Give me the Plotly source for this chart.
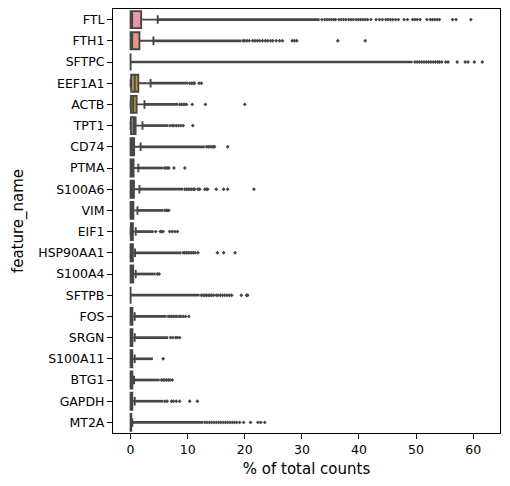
import math
import colorsys
import plotly.graph_objects as go

genes = ["FTL", "FTH1", "SFTPC", "EEF1A1", "ACTB", "TPT1", "CD74", "PTMA", "S100A6", "VIM",
         "EIF1", "HSP90AA1", "S100A4", "SFTPB", "FOS", "SRGN", "S100A11", "BTG1", "GAPDH", "MT2A"]
lower_whisker = [0.0] * 20
q1 = [0.0, 0.0, 0.0, 0.1, 0.05, 0.05, 0.0, 0.0, 0.0, 0.0,
      0.05, 0.0, 0.0, 0.0, 0.0, 0.0, 0.0, 0.0, 0.0, 0.0]
median = [0.27, 0.28, 0.0, 0.73, 0.45, 0.55, 0.28, 0.25, 0.3, 0.2,
          0.2, 0.15, 0.2, 0.0, 0.12, 0.12, 0.1, 0.1, 0.1, 0.05]
q3 = [1.85, 1.55, 0.0, 1.35, 1.05, 0.88, 0.62, 0.52, 0.58, 0.48,
      0.4, 0.4, 0.45, 0.0, 0.32, 0.32, 0.3, 0.32, 0.3, 0.12]
upper_whisker = [4.75, 4.0, 0.0, 3.5, 2.43, 2.08, 1.75, 1.35, 1.55, 1.2,
                 0.9, 0.78, 0.9, 0.0, 0.73, 0.73, 0.73, 0.62, 0.73, 0.3]
# end of the densely packed run of outliers (appears as a solid line)
dense_outlier_end = [33.1, 19.4, 49.4, 10.05, 8.3, 6.6, 13.0, 5.7, 9.2, 5.7,
                     4.05, 8.9, 4.4, 12.1, 6.3, 6.6, 3.9, 5.1, 5.7, 12.7]
# individually visible outliers beyond the dense run
sparse_outliers = [
    [33.5, 34.0, 34.4, 34.8, 35.2, 35.6, 35.9, 36.5, 36.9, 37.3, 37.7, 38.2, 38.6, 39.0, 39.5,
     39.9, 40.3, 40.7, 41.1, 41.5, 42.1, 43.0, 43.6, 44.1, 44.7, 45.1, 45.5, 45.9, 46.4, 46.9,
     47.9, 48.5, 49.4, 49.8, 50.2, 50.7, 51.9, 52.5, 52.9, 53.3, 53.7, 54.1, 56.4, 57.0, 59.6],
    [19.7, 20.0, 20.4, 20.8, 21.4, 21.8, 22.2, 22.6, 23.1, 23.6, 24.0, 24.5, 24.9, 25.5, 26.1,
     26.6, 28.3, 28.7, 29.1, 36.3, 41.1],
    [49.8, 50.2, 50.6, 51.0, 51.4, 51.8, 52.2, 52.6, 53.0, 53.4, 53.8, 54.1, 54.5, 55.2, 55.6,
     57.2, 58.6, 59.1, 60.2, 61.6],
    [10.35, 10.7, 11.0, 11.2, 12.0, 12.4],
    [8.6, 8.9, 9.2, 9.5, 9.8, 10.8, 13.1, 20.0],
    [6.9, 7.3, 7.6, 8.0, 8.4, 8.8, 9.2, 10.9],
    [13.3, 13.6, 13.9, 14.2, 14.5, 14.7, 17.0],
    [5.95, 6.2, 6.45, 6.7, 7.6, 9.5],
    [9.5, 9.8, 10.1, 10.4, 10.7, 11.0, 11.2, 11.8, 12.1, 13.0, 13.3, 13.5, 15.0, 16.3, 17.0, 21.6],
    [6.0, 6.3, 6.5, 6.7],
    [4.4, 5.2, 5.45, 5.7, 6.85, 7.3, 7.75, 8.2],
    [9.2, 9.5, 9.8, 10.1, 10.4, 10.7, 11.0, 11.3, 11.8, 15.2, 16.3, 18.3],
    [4.7, 5.0],
    [12.4, 12.7, 13.0, 13.3, 13.6, 13.9, 14.2, 14.5, 15.0, 15.3, 15.7, 16.1, 16.5, 16.9, 17.3,
     17.7, 19.4, 20.3, 20.5],
    [6.6, 6.9, 7.2, 7.5, 7.8, 8.1, 8.5, 8.8, 9.2, 9.6, 10.2],
    [7.0, 7.4, 7.9, 8.2, 8.6],
    [5.7],
    [5.4, 5.7, 6.0, 6.3, 6.6, 6.9, 7.3],
    [6.0, 6.4, 7.15, 7.5, 8.0, 8.6, 10.35, 11.7],
    [13.0, 13.4, 13.8, 14.2, 14.6, 15.0, 15.4, 15.8, 16.2, 16.6, 17.0, 17.4, 17.8, 18.2, 18.6,
     19.1, 19.8, 21.0, 22.3, 22.8, 23.5],
]
x_ticks = [0, 10, 20, 30, 40, 50, 60]

# ---- seaborn-like husl palette (l=.7) desaturated to 0.75 ----
_m = [[3.2406, -1.5372, -0.4986], [-0.9689, 1.8758, 0.0415], [0.0557, -0.2040, 1.0570]]
_refU, _refV, _kappa, _eps = 0.19784, 0.46834, 903.3, 0.008856


def _max_chroma(L, H):
    hrad = math.radians(H)
    sinH, cosH = math.sin(hrad), math.cos(hrad)
    sub1 = (L + 16) ** 3 / 1560896.0
    sub2 = sub1 if sub1 > _eps else L / _kappa
    res = float("inf")
    for m1, m2, m3 in _m:
        top = (0.99915 * m1 + 1.05122 * m2 + 1.14460 * m3) * sub2
        rb = 0.86330 * m3 - 0.17266 * m2
        lb = 0.12949 * m3 - 0.38848 * m1
        bottom = (rb * sinH + lb * cosH) * sub2
        for t in (0.0, 1.0):
            C = L * (top - 1.05122 * t) / (bottom + 0.17266 * sinH * t)
            if 0.0 < C < res:
                res = C
    return res


def _husl_to_rgb(H, S, L):
    C = _max_chroma(L, H) / 100.0 * S
    U, V = math.cos(math.radians(H)) * C, math.sin(math.radians(H)) * C
    t = (L + 16.0) / 116.0
    Y = t ** 3 if t ** 3 > _eps else (116.0 * t - 16.0) / _kappa
    vU = U / (13.0 * L) + _refU
    vV = V / (13.0 * L) + _refV
    X = 0.0 - (9.0 * Y * vU) / ((vU - 4.0) * vV - vU * vV)
    Z = (9.0 * Y - 15.0 * vV * Y - vV * X) / (3.0 * vV)
    out = []
    for row in _m:
        c = row[0] * X + row[1] * Y + row[2] * Z
        c = 12.92 * c if c <= 0.0031308 else 1.055 * c ** (1 / 2.4) - 0.055
        out.append(min(max(c, 0.0), 1.0))
    return out


n = len(genes)
cols = []
lights = []
for i in range(n):
    h = ((i / n) + 0.01) % 1 * 359
    r, g, b = _husl_to_rgb(h, 0.9 * 99, 0.7 * 99)
    hh, ll, ss = colorsys.rgb_to_hls(r, g, b)
    r, g, b = colorsys.hls_to_rgb(hh, ll, ss * 0.75)
    lights.append(colorsys.rgb_to_hls(r, g, b)[1])
    cols.append("rgb(%d,%d,%d)" % (round(r * 255), round(g * 255), round(b * 255)))
lum = min(lights) * 0.6
gv = round(lum * 255)
gray = "rgb(%d,%d,%d)" % (gv, gv, gv)

fig = go.Figure()
for i, gname in enumerate(genes):
    fig.add_trace(go.Box(
        y=[gname], q1=[q1[i]], median=[median[i]], q3=[q3[i]],
        lowerfence=[lower_whisker[i]], upperfence=[upper_whisker[i]],
        orientation="h", fillcolor=cols[i], line=dict(color=gray, width=1.9),
        width=0.8, whiskerwidth=0.5, boxpoints=False, showlegend=False, hoverinfo="skip"))

for i, gname in enumerate(genes):
    fig.add_trace(go.Scatter(
        x=[upper_whisker[i], dense_outlier_end[i]], y=[gname, gname], mode="lines",
        line=dict(color=gray, width=2.7), showlegend=False, hoverinfo="skip"))
    fig.add_trace(go.Scatter(
        x=sparse_outliers[i], y=[gname] * len(sparse_outliers[i]), mode="markers",
        marker=dict(color=gray, size=3.0, symbol="diamond", line=dict(width=0)),
        showlegend=False, hoverinfo="skip"))

font = dict(family="DejaVu Sans", size=12.5, color="black")
fig.update_layout(
    width=510, height=486, margin=dict(l=113, r=10, t=9, b=53, autoexpand=False),
    paper_bgcolor="white", plot_bgcolor="white", boxmode="overlay", font=font,
    xaxis=dict(range=[-3.08, 64.7], tickvals=x_ticks, ticks="outside", ticklen=5, tickwidth=1.1,
               tickcolor="black", showline=True, linecolor="black", linewidth=1.1, mirror=True,
               showgrid=False, zeroline=False, title=dict(text="% of total counts", standoff=7),
               tickfont=font),
    yaxis=dict(type="category", categoryorder="array", categoryarray=genes, range=[19.5, -0.5],
               ticks="outside", ticklen=5, tickwidth=1.1, tickcolor="black", showline=True,
               linecolor="black", linewidth=1.1, mirror=True, showgrid=False, zeroline=False,
               title=dict(text="feature_name", standoff=11), tickfont=font),
)
fig.write_html("out.html")
